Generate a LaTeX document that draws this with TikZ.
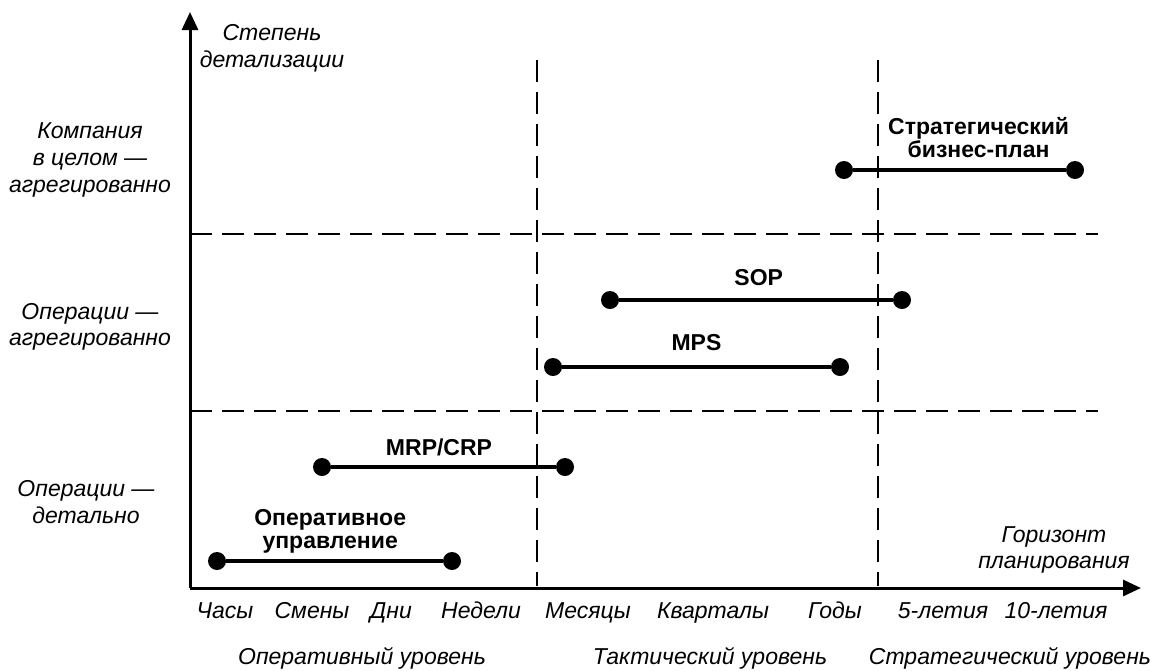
\documentclass[tikz,border=0pt]{standalone}
\usepackage{fontspec}
\setmainfont{Liberation Sans}
\usetikzlibrary{arrows.meta, positioning}

\begin{document}
\begin{tikzpicture}[x=0.5pt, y=-0.5pt,
            % Styles
            axis/.style={draw, line width=1.5pt, -{Triangle[length=9pt, width=8pt]}},
            level/.style={draw, line width=1.3pt, dash pattern=on 11pt off 5pt},
            dot/.style={circle, fill=black, inner sep=0pt, minimum size=9pt},
            line/.style={draw, line width=1.6pt},
            caption/.style={font=\fontsize{11.5}{13.3}\selectfont\itshape, align=center, inner sep=0pt},
            tick/.style={font=\fontsize{11.5}{13.3}\selectfont\itshape, anchor=base, inner sep=0pt},
            plan/.style={font=\fontsize{11.5}{11.5}\selectfont\bfseries, align=center, inner sep=0pt}
        ]
        \useasboundingbox (0,0) rectangle (1151,670);

        % Axes
        \coordinate (origin) at (190,588);
        \coordinate (ytip) at (190,12);
        \coordinate (xtip) at (1141,588);
        \path [axis] (origin) -- (ytip);
        \path [axis] (origin) -- (xtip);

        % Level borders
        \coordinate (upperL) at (190,234);
        \coordinate (upperR) at (1098,234);
        \coordinate (lowerL) at (190,411);
        \coordinate (lowerR) at (1098,411);
        \coordinate (tactT) at (537,60);
        \coordinate (tactB) at (537,586);
        \coordinate (stratT) at (878,60);
        \coordinate (stratB) at (878,586);
        \path [level] (upperL) -- (upperR);
        \path [level] (lowerL) -- (lowerR);
        \path [level] (tactT) -- (tactB);
        \path [level] (stratT) -- (stratB);

        % Axis titles
        \node [caption] (detail) at (272,48) {Степень\\детализации};
        \node [caption] (horizon) at (1054,550) {Горизонт\\планирования};

        % Rows
        \node [caption] (company) at (90,160) {Компания\\в целом —\\агрегированно};
        \node [caption] (opsagg) at (90,327) {Операции —\\агрегированно};
        \node [caption] (opsdet) at (86,502) {Операции —\\детально};

        % Horizon ticks
        \node [tick] (hours) at (225,618) {Часы};
        \node [tick] (shifts) at (312,618) {Смены};
        \node [tick] (days) at (391,618) {Дни};
        \node [tick] (weeks) at (481,618) {Недели};
        \node [tick] (months) at (588,618) {Месяцы};
        \node [tick] (quarters) at (713,618) {Кварталы};
        \node [tick] (years) at (835,618) {Годы};
        \node [tick] (five) at (943,618) {5-летия};
        \node [tick] (ten) at (1056,618) {10-летия};

        % Levels
        \node [tick] (oplevel) at (362,664) {Оперативный уровень};
        \node [tick] (taclevel) at (710,664) {Тактический уровень};
        \node [tick] (strlevel) at (1010,664) {Стратегический уровень};

        % Plans
        \node [dot] (bpL) at (844,170) {};
        \node [dot] (bpR) at (1075,170) {};
        \node [dot] (sopL) at (610,300) {};
        \node [dot] (sopR) at (902,300) {};
        \node [dot] (mpsL) at (553,367) {};
        \node [dot] (mpsR) at (840,367) {};
        \node [dot] (mrpL) at (322,467) {};
        \node [dot] (mrpR) at (565,467) {};
        \node [dot] (opL) at (217,561) {};
        \node [dot] (opR) at (452,561) {};

        % Edges
        \path [line] (bpL) -- node[plan, pos=0.59, yshift=16pt] {Стратегический\\бизнес-план} (bpR);
        \path [line] (sopL) -- node[plan, pos=0.51, yshift=11pt] {SOP} (sopR);
        \path [line] (mpsL) -- node[plan, pos=0.5, yshift=12pt] {MPS} (mpsR);
        \path [line] (mrpL) -- node[plan, pos=0.48, yshift=10pt] {MRP/CRP} (mrpR);
        \path [line] (opL) -- node[plan, pos=0.48, yshift=15pt] {Оперативное\\управление} (opR);

    \end{tikzpicture}
\end{document}
